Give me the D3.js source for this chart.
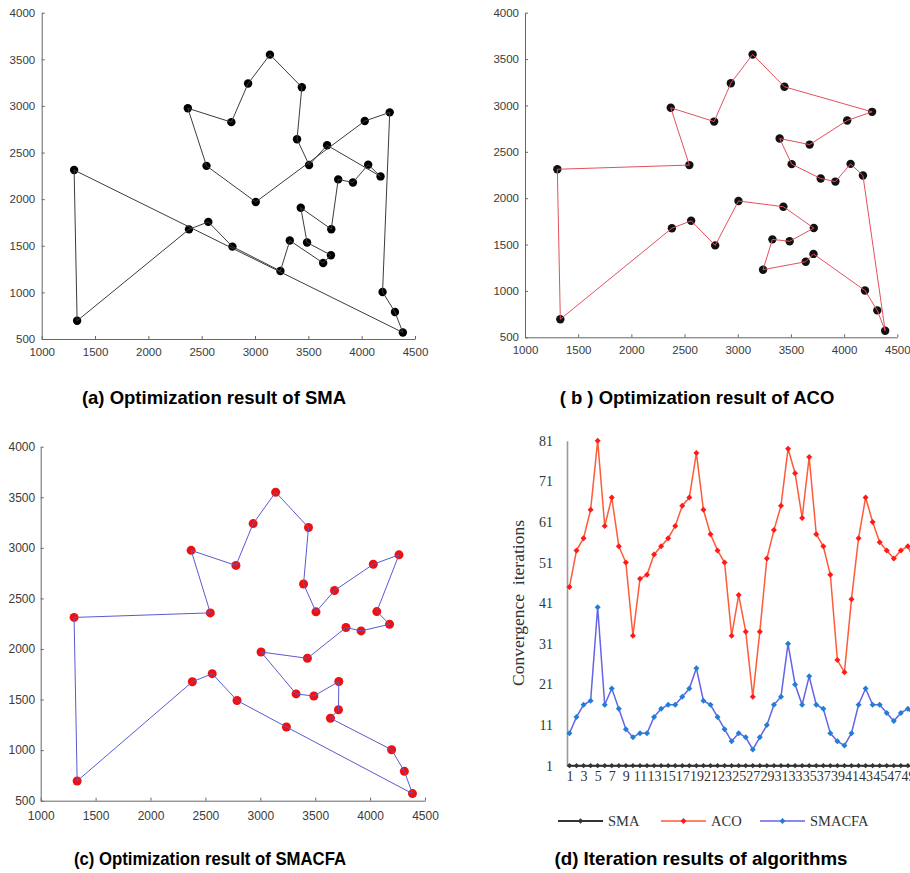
<!DOCTYPE html>
<html>
<head>
<meta charset="utf-8">
<script src="https://cdn.jsdelivr.net/npm/d3@7"></script>
<style>
body { margin: 0; background: #fff; }
svg { display: block; background: #fff; }
</style>
</head>
<body>
<div id="chart-area"></div>
<script>
// 31 city coordinates
const cityX = [1304, 3639, 4177, 3712, 3488, 3326, 3238, 4196, 4312, 4386, 3007, 2562, 2788, 2381, 1332, 3715,
  3918, 4061, 3780, 3676, 4029, 4263, 3429, 3507, 3394, 3439, 2935, 3140, 2545, 2778, 2370]
const cityY = [2312, 1315, 2244, 1399, 1535, 1556, 1229, 1004, 790, 570, 1970, 1756, 1491, 1676, 695, 1678,
  2179, 2370, 2212, 2578, 2838, 2931, 1908, 2367, 2643, 3201, 3240, 3550, 2357, 2826, 2975]

// visiting order of each algorithm (closed tours)
const tourSMA = [0, 14, 13, 11, 12, 6, 5, 1, 3, 4, 22, 15, 18, 16, 17, 2, 19, 23, 24, 25, 27, 26, 29, 30, 28, 10, 20, 21, 7, 8, 9]
const tourACO = [0, 14, 13, 11, 12, 10, 22, 15, 4, 5, 6, 1, 3, 7, 8, 9, 2, 17, 16, 18, 23, 24, 19, 20, 21, 25, 27, 26, 29, 30, 28]
const tourSMACFA = [0, 14, 13, 11, 12, 6, 9, 8, 7, 1, 3, 15, 4, 5, 10, 22, 18, 16, 2, 17, 21, 20, 19, 23, 24, 25, 27, 26, 29, 30, 28]

const mapTicksX = [1000, 1500, 2000, 2500, 3000, 3500, 4000, 4500]
const mapTicksY = [500, 1000, 1500, 2000, 2500, 3000, 3500, 4000]

// convergence iterations per run
const runs = [1, 2, 3, 4, 5, 6, 7, 8, 9, 10, 11, 12, 13, 14, 15, 16, 17, 18, 19, 20, 21, 22, 23, 24, 25,
  26, 27, 28, 29, 30, 31, 32, 33, 34, 35, 36, 37, 38, 39, 40, 41, 42, 43, 44, 45, 46, 47, 48, 49, 50]
const iterSMA = [1, 1, 1, 1, 1, 1, 1, 1, 1, 1, 1, 1, 1, 1, 1, 1, 1, 1, 1, 1, 1, 1, 1, 1, 1,
  1, 1, 1, 1, 1, 1, 1, 1, 1, 1, 1, 1, 1, 1, 1, 1, 1, 1, 1, 1, 1, 1, 1, 1, 1]
const iterACO = [45, 54, 57, 64, 81, 60, 67, 55, 51, 33, 47, 48, 53, 55, 57, 60, 65, 67, 78, 64, 58, 54, 51, 33, 43,
  34, 18, 34, 52, 59, 65, 79, 73, 62, 77, 58, 55, 48, 27, 24, 42, 57, 67, 61, 56, 54, 52, 54, 55, 51]
const iterSMACFA = [9, 13, 16, 17, 40, 16, 20, 15, 10, 8, 9, 9, 13, 15, 16, 16, 18, 20, 25, 17, 16, 13, 10, 7, 9,
  8, 5, 8, 11, 16, 18, 31, 21, 16, 23, 16, 15, 9, 7, 6, 9, 16, 20, 16, 16, 14, 12, 14, 15, 13]
const iterTicksY = [1, 11, 21, 31, 41, 51, 61, 71, 81]
const iterTicksX = [1, 3, 5, 7, 9, 11, 13, 15, 17, 19, 21, 23, 25, 27, 29, 31, 33, 35, 37, 39, 41, 43, 45, 47, 49]

const svg = d3.select("#chart-area").append("svg")
  .attr("width", 910)
  .attr("height", 873)

const SANS = "'Liberation Sans', Arial, Helvetica, sans-serif"
const SERIF = "'Liberation Serif', 'Times New Roman', serif"

// one route map panel
function drawMap(tour, box, st) {
  const x = d3.scaleLinear().domain([1000, 4500]).range([box.left, box.right])
  const y = d3.scaleLinear().domain([500, 4000]).range([box.bottom, box.top])
  const g = svg.append("g")

  const xAxis = g.append("g")
    .attr("transform", `translate(0, ${box.bottom})`)
    .call(d3.axisBottom(x).tickValues(mapTicksX).tickSizeInner(-3).tickSizeOuter(0)
      .tickPadding(st.padX).tickFormat(d3.format("d")))
  const yAxis = g.append("g")
    .attr("transform", `translate(${box.left}, 0)`)
    .call(d3.axisLeft(y).tickValues(mapTicksY).tickSizeInner(-3).tickSizeOuter(0)
      .tickPadding(st.padY).tickFormat(d3.format("d")))

  ;[xAxis, yAxis].forEach(a => {
    a.select(".domain").attr("stroke", "#666").attr("stroke-width", 1)
    a.selectAll(".tick line").attr("stroke", "#666")
    a.selectAll("text").attr("fill", "#3a3a3a").attr("font-family", SANS).attr("font-size", st.font)
  })

  g.selectAll("circle.city").data(tour).enter().append("circle")
    .attr("class", "city")
    .attr("cx", i => x(cityX[i]))
    .attr("cy", i => y(cityY[i]))
    .attr("r", st.r)
    .attr("fill", st.dot)

  const line = d3.line().x(i => x(cityX[i])).y(i => y(cityY[i]))
  g.append("path")
    .datum(tour.concat([tour[0]]))
    .attr("d", line)
    .attr("fill", "none")
    .attr("stroke", st.line)
    .attr("stroke-width", st.lw)
}

drawMap(tourSMA, {left: 41.7, right: 415, top: 12.7, bottom: 339},
  {line: "#3c3c3c", dot: "#000", r: 4.2, lw: 1, font: "11.5px", padX: 8.5, padY: 6.5})
drawMap(tourACO, {left: 525, right: 897.3, top: 12.7, bottom: 337.3},
  {line: "#e2515f", dot: "#111", r: 4.2, lw: 1, font: "11.5px", padX: 9, padY: 6})
drawMap(tourSMACFA, {left: 40.7, right: 425, top: 446.7, bottom: 800.7},
  {line: "#5a5ad0", dot: "#ee1111", r: 4.5, lw: 1, font: "12px", padX: 11, padY: 5.5})

// iteration chart
const xI = d3.scaleLinear().domain([0.65, 50]).range([567, 569.5 + 49 * 7.05])
const yI = d3.scaleLinear().domain([1, 81]).range([765.7, 440.7])
const gi = svg.append("g")

const yAx = gi.append("g")
  .attr("transform", "translate(567, 0)")
  .call(d3.axisLeft(yI).tickValues(iterTicksY).tickSize(0).tickPadding(14))
yAx.select(".domain").attr("stroke", "#9a9a9a").attr("stroke-width", 1.6)
yAx.selectAll("text").attr("fill", "#333").attr("font-family", SERIF).attr("font-size", "14px")

const xAx = gi.append("g")
  .attr("transform", "translate(0, 765.7)")
  .call(d3.axisBottom(xI).tickValues(iterTicksX).tickSize(0).tickPadding(5).tickFormat(d3.format("d")))
xAx.select(".domain").attr("stroke", "#9a9a9a").attr("stroke-width", 1.6)
xAx.selectAll("text").attr("fill", "#333").attr("font-family", SERIF).attr("font-size", "14px")

gi.append("text")
  .attr("transform", "translate(518, 603) rotate(-90)")
  .attr("text-anchor", "middle")
  .attr("dominant-baseline", "central")
  .attr("font-family", SERIF)
  .attr("font-size", "17.5px")
  .attr("fill", "#333")
  .attr("xml:space", "preserve")
  .text("Convergence  iterations")

const series = [
  {name: "SMA", values: iterSMA, line: "#333", marker: "#333", lw: 2, ms: 14},
  {name: "ACO", values: iterACO, line: "#ff5a3a", marker: "#ff1a1a", lw: 1.5, ms: 18},
  {name: "SMACFA", values: iterSMACFA, line: "#6464e8", marker: "#1f7fd6", lw: 1.5, ms: 18}
]
const diamond = s => d3.symbol().type(d3.symbolSquare).size(s)()

series.forEach(s => {
  const pts = runs.map((r, i) => [r, s.values[i]])
  gi.append("path")
    .datum(pts)
    .attr("d", d3.line().x(d => xI(d[0])).y(d => yI(d[1])))
    .attr("fill", "none")
    .attr("stroke", s.line)
    .attr("stroke-width", s.lw)
  gi.selectAll(null).data(pts).enter().append("path")
    .attr("d", diamond(s.ms))
    .attr("transform", d => `translate(${xI(d[0])}, ${yI(d[1])}) rotate(45)`)
    .attr("fill", s.marker)
})

// legend
const legendX = [558, 661, 760]
series.forEach((s, i) => {
  const lg = gi.append("g").attr("transform", `translate(${legendX[i]}, 821)`)
  lg.append("line").attr("x1", 0).attr("x2", 45).attr("stroke", s.line).attr("stroke-width", s.lw)
  lg.append("path").attr("d", diamond(s.ms)).attr("transform", "translate(22.5, 0) rotate(45)").attr("fill", s.marker)
  lg.append("text")
    .attr("x", 50)
    .attr("dy", "0.35em")
    .attr("font-family", SERIF)
    .attr("font-size", "14.5px")
    .attr("fill", "#333")
    .text(s.name)
})

// captions
const captions = [
  {text: "(a) Optimization result of SMA", x: 214, y: 398, size: "18.5px", family: SANS},
  {text: "( b ) Optimization result of ACO", x: 697, y: 398, size: "18.5px", family: SANS},
  {text: "(c) Optimization result of SMACFA", x: 210, y: 858, size: "19px", family: SANS, len: 272},
  {text: "(d) Iteration results of algorithms", x: 701, y: 858, size: "19px", family: SANS, len: 293}
]
captions.forEach(c => {
  const t = svg.append("text")
    .attr("x", c.x)
    .attr("y", c.y)
    .attr("dy", "0.35em")
    .attr("text-anchor", "middle")
    .attr("font-family", c.family)
    .attr("font-weight", "bold")
    .attr("font-size", c.size)
    .attr("fill", "#000")
    .text(c.text)
  if (c.len) t.attr("textLength", c.len).attr("lengthAdjust", "spacingAndGlyphs")
})
</script>
</body>
</html>
